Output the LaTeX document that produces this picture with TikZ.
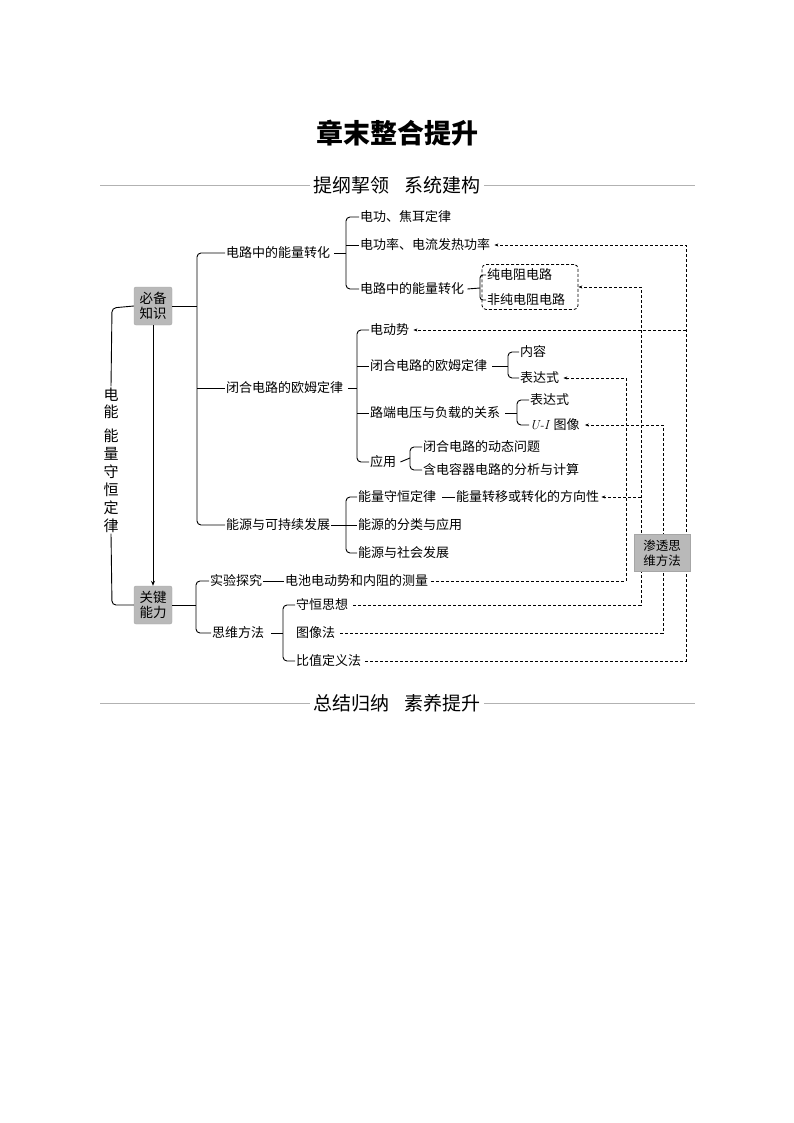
\documentclass[tikz,border=0pt]{standalone}
\usepackage{fontspec}
\newfontfamily\cjk{Noto Sans CJK SC}
\usetikzlibrary{arrows.meta}
\begin{document}
\begin{tikzpicture}[x=1pt,y=-1pt,
  t/.style={anchor=west,inner sep=1pt,font=\cjk\fontsize{13}{15}\selectfont},
  ln/.style={line width=0.9pt,rounded corners=4pt},
  dsh/.style={line width=0.8pt,dash pattern=on 3pt off 2pt},
  arr/.style={dsh,-{Stealth[length=4pt,width=3pt]}},
  gbox/.style={fill=gray!55,draw=gray!70,rounded corners=2pt,minimum width=38pt,minimum height=38pt,align=center,inner sep=1pt,font=\cjk\fontsize{13.5}{15}\selectfont}]
\useasboundingbox (0,0) rectangle (794,1123);
% title
\node (title) at (397,133) {\cjk\bfseries\fontsize{27}{30}\selectfont 章末整合提升};
\node[inner sep=3pt] (h1) at (397,185) {\cjk\fontsize{19}{22}\selectfont 提纲挈领\hspace{0.8em}系统建构};
\draw[gray!60,line width=0.8pt] (100,185) -- (h1.west) (h1.east) -- (695,185);
\node[inner sep=3pt] (h2) at (397,703) {\cjk\fontsize{19}{22}\selectfont 总结归纳\hspace{0.8em}素养提升};
\draw[gray!60,line width=0.8pt] (100,703) -- (h2.west) (h2.east) -- (695,703);
% left vertical text
\node[align=center,font=\cjk\fontsize{15}{18}\selectfont,inner sep=1pt] (vt) at (111,460) {电\\[-1pt]能\\[6pt]能\\量\\守\\恒\\定\\律};
\node[gbox] (bb) at (153,306) {必备\\知识};
\node[gbox] (gj) at (153,605) {关键\\能力};
\draw[ln] (vt.north) -- (112,308) -- (bb.west);
\draw[ln] (vt.south) -- (112,605) -- (gj.west);
\draw[line width=0.9pt,-{Stealth[length=5pt,width=4pt]}] (bb.south) -- (gj.north);
% level 2
\node[t] (a) at (225,253) {电路中的能量转化};
\node[t] (b) at (225,388) {闭合电路的欧姆定律};
\node[t] (c) at (225,525) {能源与可持续发展};
\draw[ln] (bb.east) -- (197,306);
\draw[ln] (a.west) -- (197,253) -- (197,525) -- (c.west);
\draw[ln] (197,388) -- (b.west);
% a children
\node[t] (a1) at (359,217) {电功、焦耳定律};
\node[t] (a2) at (359,245) {电功率、电流发热功率};
\node[t] (a3) at (359,289) {电路中的能量转化};
\draw[ln] (a.east) ++(3,0) -- (346,253);
\draw[ln] (a1.west) -- (346,217) -- (346,289) -- (a3.west);
\draw[ln] (346,245) -- (a2.west);
\node[t] (a31) at (486,275) {纯电阻电路};
\node[t] (a32) at (486,300) {非纯电阻电路};
\draw[ln] (a3.east) ++(2,0) -- (480,288);
\draw[ln,rounded corners=3pt] (a31.west) -- (480,275) -- (480,300) -- (a32.west);
\node[draw,dsh,rounded corners=4pt,minimum width=96pt,minimum height=45pt] (dbox) at (530,287) {};
% b children
\node[t] (b1) at (369,330) {电动势};
\node[t] (b2) at (369,366) {闭合电路的欧姆定律};
\node[t] (b3) at (369,413) {路端电压与负载的关系};
\node[t] (b4) at (369,462) {应用};
\draw[ln] (b.east) ++(4,0) -- (357,388);
\draw[ln] (b1.west) -- (357,330) -- (357,462) -- (b4.west);
\draw[ln] (357,366) -- (b2.west);
\draw[ln] (357,413) -- (b3.west);
\node[t] (b21) at (519,352) {内容};
\node[t] (b22) at (519,378) {表达式};
\draw[ln] (b2.east) ++(4,0) -- (508,366);
\draw[ln] (b21.west) -- (508,352) -- (508,378) -- (b22.west);
\node[t] (b31) at (529,400) {表达式};
\node[t] (b32) at (529,425) {{\normalfont\itshape U-I}\hspace{0.35em}图像};
\draw[ln] (b3.east) ++(4,0) -- (517,413);
\draw[ln] (b31.west) -- (517,400) -- (517,425) -- (b32.west);
\node[t] (b41) at (422,447) {闭合电路的动态问题};
\node[t] (b42) at (422,470) {含电容器电路的分析与计算};
\draw[ln] (b4.east) ++(3,0) -- (410,458);
\draw[ln] (b41.west) -- (410,447) -- (410,470) -- (b42.west);
% c children
\node[t] (c1) at (357,497) {能量守恒定律};
\node[t] (c1x) at (455,497) {能量转移或转化的方向性};
\node[t] (c2) at (357,525) {能源的分类与应用};
\node[t] (c3) at (357,553) {能源与社会发展};
\draw[ln] (c.east) -- (c2.west);
\draw[ln] (c1.west) -- (346,497) -- (346,553) -- (c3.west);
\draw[ln] (c1.east) ++(5,0) -- (c1x.west);
% gj children
\node[t] (d1) at (209,581) {实验探究};
\node[t] (d1x) at (284,581) {电池电动势和内阻的测量};
\node[t] (d2) at (211,633) {思维方法};
\draw[ln] (gj.east) -- (196,605);
\draw[ln] (d1.west) -- (196,581) -- (196,633) -- (d2.west);
\draw[ln] (d1.east) -- (d1x.west);
\node[t] (e1) at (295,605) {守恒思想};
\node[t] (e2) at (295,633) {图像法};
\node[t] (e3) at (295,661) {比值定义法};
\draw[ln] (d2.east) ++(6,0) -- (283,633);
\draw[ln] (e1.west) -- (283,605) -- (283,661) -- (e3.west);
% dashed connectors
\draw[arr] (e3.east) ++(3,0) -- (686,661) -- (686,245) -- ([xshift=3pt]a2.east);
\draw[arr] (686,330) -- ([xshift=3pt]b1.east);
\draw[arr] (e2.east) ++(4,0) -- (663,633) -- (663,425) -- ([xshift=4pt]b32.east);
\draw[arr] (e1.east) ++(4,0) -- (641,605) -- (641,287) -- (dbox.east);
\draw[arr] (641,497) -- ([xshift=1pt]c1x.east);
\draw[arr] (d1x.east) ++(2,0) -- (626,581) -- (626,378) -- ([xshift=3pt]b22.east);
\node[fill=gray!55,draw=gray!70,minimum width=56pt,minimum height=37pt,align=center,inner sep=1pt,font=\cjk\fontsize{12.5}{15}\selectfont] (st) at (662,553) {渗透思\\维方法};
\end{tikzpicture}
\end{document}
